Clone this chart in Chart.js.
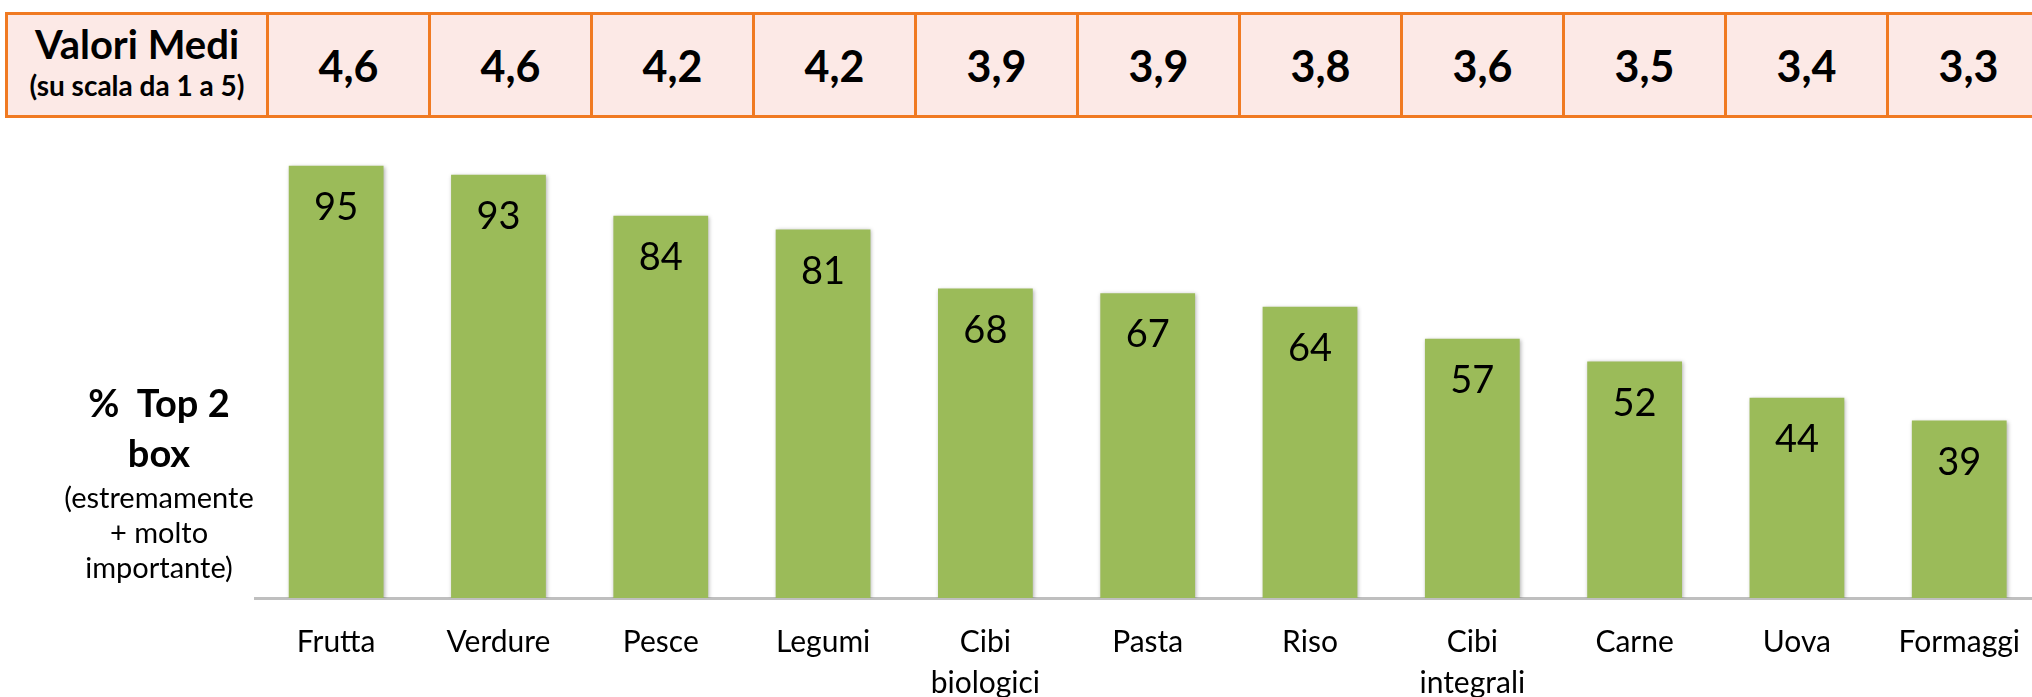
<!DOCTYPE html>
<html>
<head>
<meta charset="utf-8">
<script src="https://cdn.jsdelivr.net/npm/chart.js@4.4.1/dist/chart.umd.min.js"></script>
<style>
  html, body { margin: 0; padding: 0; background: #fff; overflow: hidden; }
  body { width: 2032px; height: 697px; position: relative; font-family: Lato, sans-serif; color: #000; }
  #wrap { position: absolute; left: 0; top: 0; width: 2044px; height: 697px; }
  #meanTable {
    position: absolute; left: 5px; top: 12px; height: 106px; width: 2060px;
    box-sizing: border-box; border: 3px solid #f07a22; background: #fce9e6;
    display: flex;
  }
  #meanTable .cell {
    box-sizing: border-box; border-right: 3px solid #f07a22; height: 100%;
    display: flex; flex-direction: column; align-items: center; justify-content: center;
    font-weight: bold;
  }
  #meanTable .head { width: 261px; padding-bottom: 4px; }
  #meanTable .head .l1 { font-size: 40px; line-height: 44px; }
  #meanTable .head .l2 { font-size: 28px; line-height: 38px; }
  #meanTable .val { width: 162px; font-size: 43px; }
  #yTitle { position: absolute; left: 0; top: 377px; width: 318px; text-align: center; }
  #yTitle .b { font-weight: bold; font-size: 38px; line-height: 50px; }
  #yTitle .r { font-size: 29px; line-height: 35px; }
</style>
</head>
<body>
<div id="wrap"><canvas id="chart" width="2044" height="697"></canvas></div>
<div id="meanTable"></div>
<div id="yTitle">
  <div class="b">%&nbsp; Top 2</div>
  <div class="b">box</div>
  <div class="r" style="margin-top:2px">(estremamente</div>
  <div class="r">+ molto</div>
  <div class="r">importante)</div>
</div>
<script>
// Data
const categories = [['Frutta'], ['Verdure'], ['Pesce'], ['Legumi'], ['Cibi', 'biologici'], ['Pasta'],
  ['Riso'], ['Cibi', 'integrali'], ['Carne'], ['Uova'], ['Formaggi']];
const top2Box = [95, 93, 84, 81, 68, 67, 64, 57, 52, 44, 39];
const meanValues = [4.6, 4.6, 4.2, 4.2, 3.9, 3.9, 3.8, 3.6, 3.5, 3.4, 3.3];

// Top table with mean values
const table = document.getElementById('meanTable');
const head = document.createElement('div');
head.className = 'cell head';
head.innerHTML = '<div class="l1">Valori Medi</div><div class="l2">(su scala da 1 a 5)</div>';
table.appendChild(head);
meanValues.forEach(v => {
  const cell = document.createElement('div');
  cell.className = 'cell val';
  cell.textContent = v.toFixed(1).replace('.', ',');
  table.appendChild(cell);
});

// soft shadow behind the bars
const barShadow = {
  id: 'barShadow',
  beforeDatasetsDraw(chart) {
    const c = chart.ctx;
    c.save();
    c.shadowColor = 'rgba(0,0,0,0.3)';
    c.shadowBlur = 4;
    c.shadowOffsetX = 1;
    c.shadowOffsetY = 1;
  },
  afterDatasetsDraw(chart) {
    chart.ctx.restore();
  }
};

// values written inside the top of each bar
const barValueLabels = {
  id: 'barValueLabels',
  afterDatasetsDraw(chart) {
    const { ctx } = chart;
    const meta = chart.getDatasetMeta(0);
    ctx.save();
    ctx.font = '38px Lato';
    ctx.fillStyle = '#000';
    ctx.textAlign = 'center';
    ctx.textBaseline = 'middle';
    meta.data.forEach((bar, i) => {
      ctx.fillText(String(top2Box[i]), bar.x, bar.y + 42);
    });
    ctx.restore();
  }
};

const ctx = document.getElementById('chart').getContext('2d');
new Chart(ctx, {
  type: 'bar',
  data: {
    labels: categories,
    datasets: [{
      data: top2Box,
      backgroundColor: '#9bbb59',
      barPercentage: 0.584,
      categoryPercentage: 1
    }]
  },
  options: {
    responsive: false,
    animation: false,
    layout: { padding: { left: 255, top: 143, right: 0, bottom: -31 } },
    plugins: { legend: { display: false }, tooltip: { enabled: false } },
    scales: {
      x: {
        grid: { display: false, drawTicks: false },
        border: { display: true, color: '#bfbfbf', width: 3 },
        ticks: {
          color: '#000',
          font: { family: 'Lato', size: 30, lineHeight: '41px' },
          padding: 24,
          maxRotation: 0,
          autoSkip: false
        }
      },
      y: { display: false, min: 0, max: 100 }
    }
  },
  plugins: [barShadow, barValueLabels]
});
</script>
</body>
</html>
